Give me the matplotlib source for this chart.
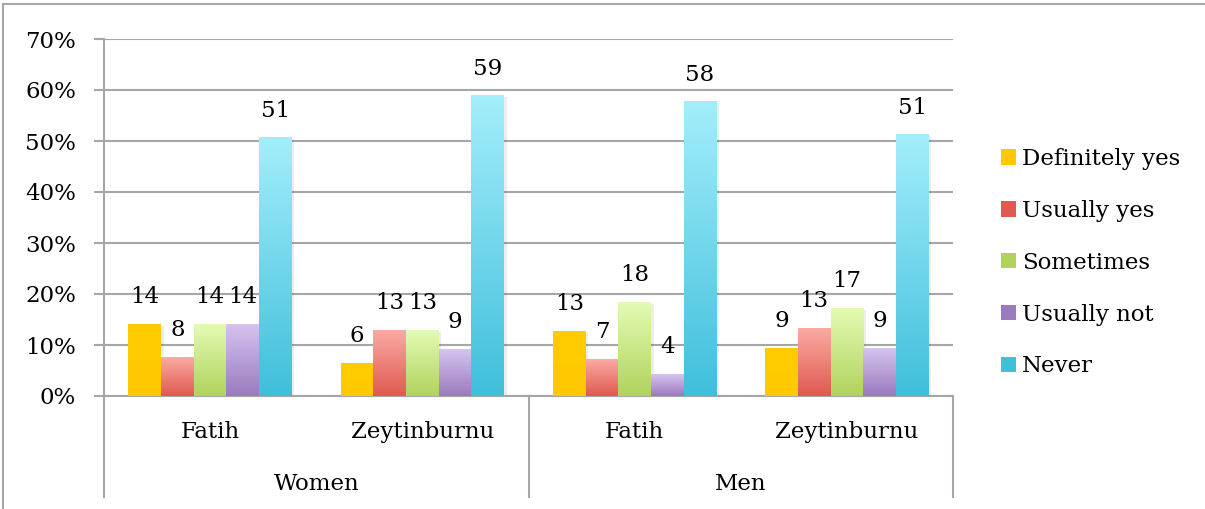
import matplotlib
matplotlib.use("Agg")
import matplotlib.pyplot as plt
import numpy as np
from matplotlib.lines import Line2D
from matplotlib.patches import Rectangle
from matplotlib.colors import LinearSegmentedColormap

plt.rcParams['font.family'] = ['DejaVu Serif']

genders = ["Women", "Men"]
districts = ["Fatih", "Zeytinburnu", "Fatih", "Zeytinburnu"]
series = ["Definitely yes", "Usually yes", "Sometimes", "Usually not", "Never"]
definitely_yes = [14.1, 6.4, 12.7, 9.3]
usually_yes = [7.6, 12.9, 7.2, 13.3]
sometimes = [14.1, 12.9, 18.4, 17.2]
usually_not = [14.1, 9.2, 4.3, 9.4]
never = [50.6, 58.9, 57.7, 51.2]
values = [definitely_yes, usually_yes, sometimes, usually_not, never]
labels = [[14, 6, 13, 9], [8, 13, 7, 13], [14, 13, 18, 17], [14, 9, 4, 9], [51, 59, 58, 51]]
yticks = [0, 10, 20, 30, 40, 50, 60, 70]

# gradient (top, bottom) colours per series
grad = [("#FFCC00", "#FFC800"), ("#FBAAA4", "#DF5A50"), ("#E3FBB2", "#B1D35E"),
        ("#D6C3F0", "#9A7BBE"), ("#A3EEFB", "#40BFDB")]

FS = 16.5
W, H = 1205, 509
fig = plt.figure(figsize=(W / 100, H / 100), dpi=100)
ax = fig.add_axes([104 / W, (H - 396) / H, (953 - 104) / W, (396 - 39) / H])

x = np.arange(len(districts))
bw = 0.154
grid_c = "#A6A6A6"
for i, (vals, name) in enumerate(zip(values, series)):
    pos = x + (i - 2) * bw
    bars = ax.bar(pos, vals, bw, color=grad[i][1], label=name, zorder=3, linewidth=0)
    cmap = LinearSegmentedColormap.from_list("g%d" % i, [grad[i][1], grad[i][0]])
    for b, lab in zip(bars, labels[i]):
        bx, by, bwid, bh = b.get_x(), b.get_y(), b.get_width(), b.get_height()
        # soft shadow
        ax.add_patch(Rectangle((bx + 0.012, by), bwid, bh - 0.3, color="#000000", alpha=0.07,
                               zorder=2, linewidth=0))
        img = np.linspace(0, 1, 100).reshape(-1, 1)
        ax.imshow(img, cmap=cmap, origin="lower", aspect="auto",
                  extent=(bx, bx + bwid, by, by + bh), zorder=3.5, interpolation="bicubic")
        ax.annotate(str(lab), (bx + bwid / 2, by + bh), xytext=(0, 19.5),
                    textcoords="offset points", ha="center", va="center", fontsize=FS, zorder=5)

ax.set_xlim(-0.5, 3.5)
ax.set_ylim(0, 70)
ax.set_yticks(yticks)
ax.set_yticklabels(["%d%%" % t for t in yticks], fontsize=FS)
ax.set_xticks([])
ax.yaxis.grid(True, color=grid_c, linewidth=1.5, zorder=0)
for s in ["top", "right"]:
    ax.spines[s].set_visible(False)
ax.spines["left"].set_color(grid_c)
ax.spines["left"].set_linewidth(1.5)
ax.spines["bottom"].set_color(grid_c)
ax.spines["bottom"].set_linewidth(1.5)
ax.tick_params(axis="y", length=7, width=1.5, color=grid_c, pad=13)

# multi-level category axis
trans = ax.get_xaxis_transform()
for xv in [-0.5, 1.5, 3.5]:
    ax.add_line(Line2D([xv, xv], [0, -101 / 357], transform=trans, color=grid_c,
                       linewidth=1.5, clip_on=False))
for xv, d in zip(x, districts):
    ax.text(xv, -36 / 357, d, transform=trans, ha="center", va="center", fontsize=FS)
for xv, g in zip([0.5, 2.5], genders):
    ax.text(xv, -88 / 357, g, transform=trans, ha="center", va="center", fontsize=FS)

# legend
ax.legend(loc="upper left", bbox_to_anchor=(992 / W, 1 - 139 / H), bbox_transform=fig.transFigure,
          frameon=False, fontsize=FS, handlelength=0.65, handleheight=0.65, handletextpad=0.25,
          labelspacing=1.3, borderaxespad=0)

# outer frame
fig.add_artist(Line2D([3 / W, 1], [1 - 4 / H, 1 - 4 / H], transform=fig.transFigure,
                      color=grid_c, linewidth=1.5))
fig.add_artist(Line2D([3 / W, 3 / W], [0, 1 - 4 / H], transform=fig.transFigure,
                      color=grid_c, linewidth=1.5))

fig.savefig("out.png", dpi=100)
